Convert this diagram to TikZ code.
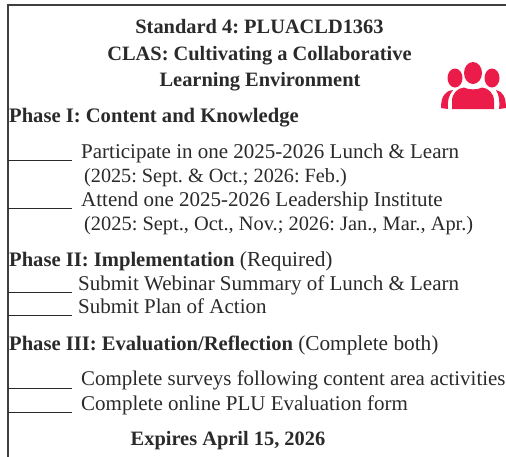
\documentclass[tikz,border=0pt]{standalone}
\usepackage{fontspec}
\setmainfont{Liberation Serif}
\definecolor{iconred}{HTML}{EC1C4A}
\definecolor{ink}{HTML}{2B2A2B}
\newcommand{\hd}[1]{{\fontsize{20.6pt}{22pt}\selectfont\bfseries #1}}
\newcommand{\fs}[1]{\fontsize{#1pt}{22pt}\selectfont}
\tikzset{txt/.style={anchor=base west,inner sep=0pt,font=\fontsize{21pt}{22pt}\selectfont\frenchspacing,text=ink},
ctr/.style={anchor=base,inner sep=0pt,font=\fontsize{20.4pt}{22pt}\selectfont\bfseries\frenchspacing,text=ink},
blankline/.style={line width=0.9pt,ink},
frameline/.style={line width=2pt,ink!90}}
\begin{document}
\begin{tikzpicture}[x=1pt,y=-1pt]
\useasboundingbox (0,0) rectangle (506,456);
\fill[white] (0,0) rectangle (506,456);
\draw[frameline] (507,4.7)--(7.5,4.7)--(7.5,457);
\node[ctr] (t1) at (259.5,33) {Standard 4: PLUACLD1363};
\node[ctr] (t2) at (259.5,60) {CLAS: Cultivating a Collaborative};
\node[ctr] (t3) at (260,86) {Learning Environment};
\node[txt] (p1) at (9,122) {\hd{Phase I: Content and Knowledge}};
\node[txt] (a) at (81,158) {Participate in one 2025-2026 Lunch \& Learn};
\node[txt] (b) at (84,182) {\fs{20.2}(2025: Sept. \& Oct.; 2026: Feb.)};
\node[txt] (c) at (81,206.5) {Attend one 2025-2026 Leadership Institute};
\node[txt] (d) at (84,230.5) {\fs{20.4}(2025: Sept., Oct., Nov.; 2026: Jan., Mar., Apr.)};
\node[txt] (p2) at (9,266) {\hd{Phase II: Implementation} \fs{21.4}(Required)};
\node[txt] (e) at (78,290) {Submit Webinar Summary of Lunch \& Learn};
\node[txt] (f) at (78,313.5) {Submit Plan of Action};
\node[txt] (p3) at (9,350) {\hd{Phase III: Evaluation/Reflection} \fs{21.3}(Complete both)};
\node[txt] (g) at (81,385) {\fs{20.9}Complete surveys following content area activities};
\node[txt] (h) at (81,410) {Complete online PLU Evaluation form};
\node[ctr] (x) at (228,445.5) {Expires April 15, 2026};
\foreach \yy in {160,208,292,315.5,388,412}{
  \draw[blankline] (8,\yy)--(72,\yy);
}
% icon
\fill[iconred] (473,73) ellipse (9 and 11);
\fill[iconred] (455,78) ellipse (7.5 and 9.5);
\fill[iconred] (492,78) ellipse (7.5 and 9.5);
\fill[iconred] (452,109) -- (452,101) .. controls (452,93) and (458,88) .. (464,87.5) .. controls (468,90) and (478,90) .. (482,87.5) .. controls (488,88) and (494,93) .. (494,101) -- (494,109) -- cycle;
\fill[iconred] (441,108) .. controls (441,98) and (444,91) .. (453,90) .. controls (449,95) and (447,101) .. (448,109) -- cycle;
\fill[iconred] (506,108) .. controls (506,98) and (503,91) .. (496,90) .. controls (499,95) and (500,101) .. (499,109) -- cycle;
\end{tikzpicture}
\end{document}
